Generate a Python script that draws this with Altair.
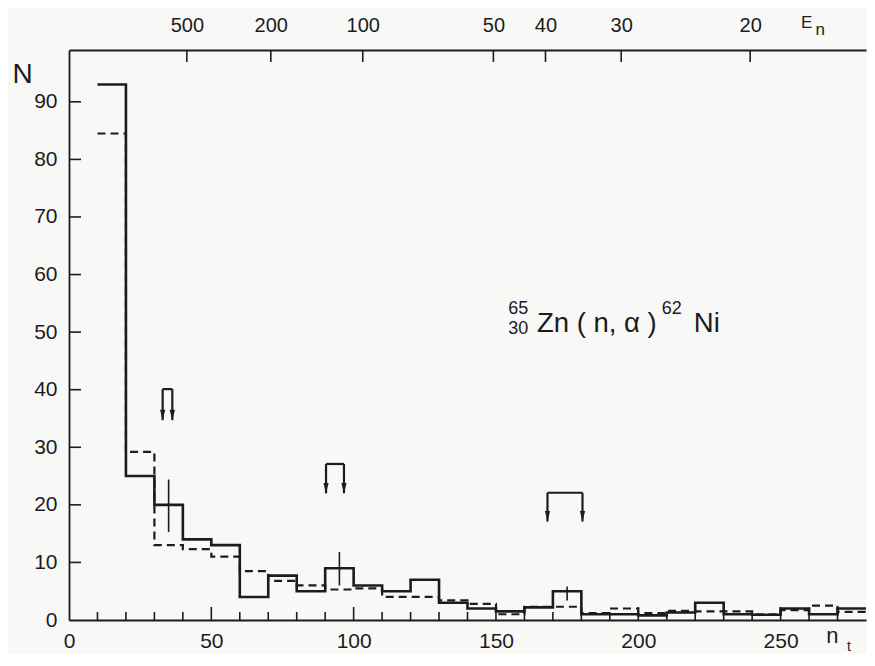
import altair as alt
import pandas as pd

# ---------------- data ----------------
bin_left = [10, 20, 30, 40, 50, 60, 70, 80, 90, 100, 110, 120, 130, 140,
            150, 160, 170, 180, 190, 200, 210, 220, 230, 240, 250, 260, 270]
bin_right_end = 280
solid_counts = [93, 25, 20, 14, 13, 4, 7.7, 5, 9, 6, 5, 7, 3, 2,
                1.5, 2.2, 5, 1, 1, 0.8, 1.3, 3, 1, 0.9, 2, 1, 2]
dashed_counts = [84.5, 29.2, 13, 12.3, 11, 8.5, 6.8, 6, 5.3, 5.5, 4, 4, 3.4, 2.8,
                 1, 2.3, 2.3, 1.2, 2, 1.2, 1.6, 1.5, 1.5, 1, 1.7, 2.5, 1.4]

err_x = [35, 95, 175]
err_lo = [15.3, 6.0, 3.4]
err_hi = [24.4, 11.8, 5.8]

arrow_left = [32.9, 90.3, 168.1]
arrow_right = [36.3, 96.6, 180.4]
arrow_top = [40.1, 27.1, 22.1]
arrow_tip = [34.7, 22.0, 17.1]

x_labels = [0, 50, 100, 150, 200, 250]
x_minor = [10, 20, 30, 40, 60, 70, 80, 90, 110, 120, 130, 140,
           160, 170, 180, 190, 210, 220, 230, 240, 260, 270]
x_major = [50, 100, 150, 200, 250]
y_labels = [0, 10, 20, 30, 40, 50, 60, 70, 80, 90]
en_labels = ["500", "200", "100", "50", "40", "30", "20"]
en_pos = [41.4, 70.9, 103.2, 149.1, 167.4, 194.0, 239.3]

ann_text = ["65", "30", "Zn ( n,  α )", "62", "Ni", "E", "n", "n", "t"]
ann_x = [154.3, 154.3, 164.4, 208.2, 219.5, 257.2, 262.3, 266.0, 273.3]
ann_y = [53.2, 49.6, 50.0, 53.2, 50.0, 102.8, 101.6, -4.0, -5.3]
ann_size = [18, 18, 27.5, 18, 27.5, 17, 17, 22, 14]

# ---------------- tables ----------------
def steps(counts):
    return pd.DataFrame({"x": bin_left + [bin_right_end],
                         "y": counts + [counts[-1]]})

solid_df = steps(solid_counts)
dashed_df = steps(dashed_counts)
err_df = pd.DataFrame({"x": err_x, "lo": err_lo, "hi": err_hi})
arr_df = pd.DataFrame({"l": arrow_left, "r": arrow_right,
                       "top": arrow_top, "tip": arrow_tip})
arr_v = pd.DataFrame({"x": arrow_left + arrow_right,
                      "top": arrow_top + arrow_top,
                      "tip": arrow_tip + arrow_tip})
minor_df = pd.DataFrame({"x": x_minor})
major_df = pd.DataFrame({"x": x_major})
ytick_df = pd.DataFrame({"y": y_labels[1:]})
top_df = pd.DataFrame({"x": en_pos, "lab": en_labels})
ann_df = pd.DataFrame({"t": ann_text, "x": ann_x, "y": ann_y, "s": ann_size})

INK = "#1c1c1c"
FONT = "Liberation Sans"
xs = alt.Scale(domain=[0, 280], nice=False, zero=False)
ys = alt.Scale(domain=[0, 99], nice=False, zero=False)

label_expr = " : ".join(
    f"datum.value == {p} ? '{l}'" for p, l in zip(en_pos, en_labels)) + " : ''"

solid = alt.Chart(solid_df).mark_line(
    interpolate="step-after", color=INK, strokeWidth=2.6
).encode(
    x=alt.X("x:Q", scale=xs, title=None,
            axis=alt.Axis(values=x_labels, ticks=False, tickSize=0, grid=False,
                          labelPadding=10, labelFontSize=21, labelFont=FONT,
                          labelColor=INK, domainColor=INK, domainWidth=1.8,
                          labelFlush=False, labelOverlap=False)),
    y=alt.Y("y:Q", scale=ys,
            axis=alt.Axis(values=y_labels, ticks=False, tickSize=0, grid=False,
                          labelPadding=12, labelFontSize=21, labelFont=FONT,
                          labelColor=INK, domainColor=INK, domainWidth=1.8,
                          labelFlush=False, labelOverlap=False,
                          title="N", titleAngle=0, titleX=-47, titleY=32,
                          titleAlign="center", titleBaseline="alphabetic",
                          titleFontSize=28, titleFontWeight="normal",
                          titleFont=FONT, titleColor=INK)),
)

dashed = alt.Chart(dashed_df).mark_line(
    interpolate="step-after", color=INK, strokeWidth=2.2, strokeDash=[8, 5]
).encode(
    x=alt.X("x:Q", scale=xs, axis=None),
    y=alt.Y("y:Q", scale=ys, axis=None),
)

errs = alt.Chart(err_df).mark_rule(color=INK, strokeWidth=1.6).encode(
    x=alt.X("x:Q", scale=xs, axis=None),
    y=alt.Y("lo:Q", scale=ys, axis=None),
    y2="hi:Q",
)

arr_h = alt.Chart(arr_df).mark_rule(color=INK, strokeWidth=2.2).encode(
    x=alt.X("l:Q", scale=xs, axis=None), x2="r:Q",
    y=alt.Y("top:Q", scale=ys, axis=None),
)
arr_vert = alt.Chart(arr_v).mark_rule(color=INK, strokeWidth=2.2).encode(
    x=alt.X("x:Q", scale=xs, axis=None),
    y=alt.Y("top:Q", scale=ys, axis=None), y2="tip:Q",
)
arr_head = alt.Chart(arr_v).mark_point(
    shape="M -0.55 -2.2 L 0.55 -2.2 L 0 0 Z", filled=True, color=INK,
    opacity=1, size=90, strokeWidth=0
).encode(
    x=alt.X("x:Q", scale=xs, axis=None),
    y=alt.Y("tip:Q", scale=ys, axis=None),
)

xticks_minor = alt.Chart(minor_df).mark_rule(color=INK, strokeWidth=1.6).encode(
    x=alt.X("x:Q", scale=xs, axis=None),
    y=alt.value(570), y2=alt.value(562),
)
xticks_major = alt.Chart(major_df).mark_rule(color=INK, strokeWidth=1.6).encode(
    x=alt.X("x:Q", scale=xs, axis=None),
    y=alt.value(570), y2=alt.value(557),
)
yticks = alt.Chart(ytick_df).mark_rule(color=INK, strokeWidth=1.6).encode(
    y=alt.Y("y:Q", scale=ys, axis=None),
    x=alt.value(0), x2=alt.value(12),
)
topticks = alt.Chart(top_df).mark_rule(color=INK, strokeWidth=1.6).encode(
    x=alt.X("x:Q", scale=xs, title=None,
            axis=alt.Axis(orient="top", values=en_pos, labelExpr=label_expr,
                          ticks=False, tickSize=0, grid=False, labelPadding=15,
                          labelFontSize=20, labelFont=FONT, labelColor=INK,
                          domainColor=INK, domainWidth=1.8, labelFlush=False,
                          labelOverlap=False)),
    y=alt.value(0), y2=alt.value(12),
)

ann = alt.Chart(ann_df).mark_text(
    align="left", baseline="alphabetic", font=FONT, color=INK
).encode(
    x=alt.X("x:Q", scale=xs, axis=None),
    y=alt.Y("y:Q", scale=ys, axis=None),
    text="t:N",
    size=alt.Size("s:Q", scale=None, legend=None),
)

chart = alt.layer(
    solid, dashed, errs, arr_h, arr_vert, arr_head,
    xticks_minor, xticks_major, yticks, topticks, ann
).resolve_axis(x="independent", y="independent").properties(
    width=797, height=570,
    padding={"left": 61, "top": 42, "right": 1, "bottom": 34},
    autosize=alt.AutoSizeParams(type="none"),
).configure(background="#f8f8f6").configure_view(stroke=None)

chart.save("out.html", embed_options={"renderer": "svg", "actions": False})
